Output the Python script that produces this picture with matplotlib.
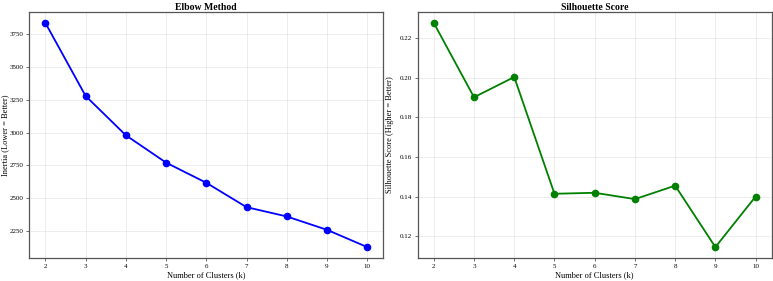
import matplotlib
matplotlib.use("Agg")
import matplotlib.pyplot as plt

plt.rcParams["font.family"] = ["Liberation Serif", "DejaVu Serif"]

k_values = [2, 3, 4, 5, 6, 7, 8, 9, 10]
inertia = [3838, 3280, 2980, 2771, 2617, 2431, 2360, 2258, 2126]
silhouette = [0.2276, 0.1901, 0.2003, 0.1414, 0.1419, 0.1387, 0.1455, 0.1145, 0.1400]

fig = plt.figure(figsize=(7.73, 2.81), dpi=100)
ax1 = fig.add_axes([29.3 / 773, 1 - 258.3 / 281, 354 / 773, 246.6 / 281])
ax2 = fig.add_axes([417.7 / 773, 1 - 258.3 / 281, 354 / 773, 246.6 / 281])

panels = [
    (ax1, inertia, "blue", "Elbow Method", "Inertia (Lower = Better)", -0.067),
    (ax2, silhouette, "green", "Silhouette Score", "Silhouette Score (Higher = Better)", -0.078),
]

for ax, vals, col, title, ylabel, lx in panels:
    ax.plot(k_values, vals, "o-", color=col, linewidth=1.3, markersize=4.5)
    ax.set_title(title, fontsize=7, fontweight="bold", pad=1)
    ax.set_xlabel("Number of Clusters (k)", fontsize=6, labelpad=2)
    ax.set_ylabel(ylabel, fontsize=6, va="center")
    ax.yaxis.set_label_coords(lx, 0.5)
    ax.set_xticks(k_values)
    ax.tick_params(labelsize=5, length=2, width=0.6, pad=2, color="#555555")
    ax.grid(True, color="#dddddd", alpha=0.6, linewidth=0.6)
    for s in ax.spines.values():
        s.set_color("#555555")
        s.set_linewidth(0.9)

fig.savefig("out.png", dpi=100)
